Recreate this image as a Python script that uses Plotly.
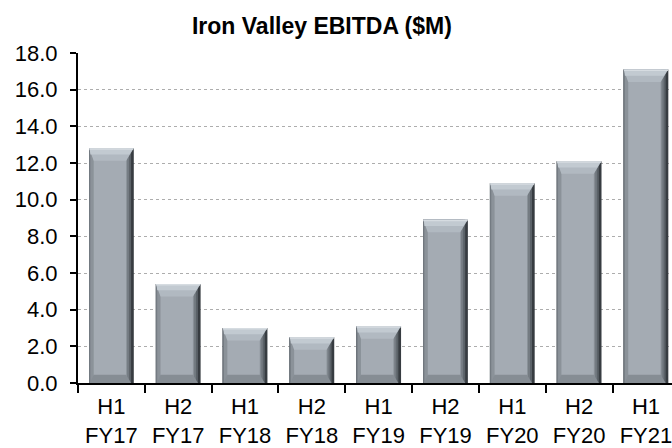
import plotly.graph_objects as go

categories = ["H1<br>FY17", "H2<br>FY17", "H1<br>FY18", "H2<br>FY18", "H1<br>FY19",
              "H2<br>FY19", "H1<br>FY20", "H2<br>FY20", "H1<br>FY21"]
ebitda = [12.8, 5.4, 3.0, 2.5, 3.1, 8.9, 10.9, 12.1, 17.1]
y_ticks = [0, 2, 4, 6, 8, 10, 12, 14, 16, 18]

FONT = "Liberation Sans, Arial, sans-serif"
xs = list(range(len(categories)))
n = len(ebitda)

fig = go.Figure()

def bar_layer(x0, x1, color, base=None, height=None):
    fig.add_trace(go.Bar(
        x=xs, y=ebitda if height is None else height, base=base,
        offset=x0, width=x1 - x0,
        marker=dict(color=color, line=dict(width=0)),
        hoverinfo="skip", showlegend=False))

def trapezoids(pts_fn, color):
    px, py = [], []
    for i, v in zip(xs, ebitda):
        for (dx, yy) in pts_fn(v):
            px.append(i + dx)
            py.append(yy)
        px.append(None)
        py.append(None)
    fig.add_trace(go.Scatter(x=px, y=py, mode="lines", fill="toself",
                             fillcolor=color, line=dict(width=0),
                             hoverinfo="skip", showlegend=False))

L, R = -0.335, 0.335       # bar edges (category units)
FL, FR = -0.265, 0.22      # face edges
TOP_B, BOT_B = 0.68, 0.45  # bevel heights (value units)

bar_layer(L, R, "#373c41")
bar_layer(L, 0.295, "#5b6268")
bar_layer(L, 0.265, "#747b82")
bar_layer(-0.315, FR + 0.015, "#8b9299")
bar_layer(FL, FR, "#a4abb3")

# bottom bevel (darker)
trapezoids(lambda v: [(L + 0.015, 0), (R - 0.04, 0), (FR, min(BOT_B, v / 2)), (FL, min(BOT_B, v / 2))],
           "#868d94")
# top bevel (lighter)
trapezoids(lambda v: [(L, v), (R, v), (FR, v - TOP_B), (FL, v - TOP_B)], "#b1b9c1")
trapezoids(lambda v: [(L + 0.01, v), (R - 0.01, v), (FR + 0.05, v - 0.34), (FL - 0.05, v - 0.34)],
           "#c2cad1")
trapezoids(lambda v: [(L, v), (R, v), (R - 0.01, v - 0.08), (L + 0.01, v - 0.08)], "#d6dce1")

fig.update_layout(
    barmode="overlay",
    width=672, height=448,
    margin=dict(l=78, r=0, t=53, b=65, autoexpand=False),
    paper_bgcolor="white", plot_bgcolor="white",
    font=dict(family=FONT, size=22, color="black"),
    title=dict(text="<b>Iron Valley EBITDA ($M)</b>", x=0.479, xanchor="center",
               y=0.943, yanchor="middle", font=dict(family=FONT, size=23, color="black")),
)
fig.update_xaxes(
    range=[-0.5, 8.39], tickvals=xs, ticktext=categories,
    showline=True, linecolor="black", linewidth=2,
    ticks="", showgrid=False, zeroline=False, tickfont=dict(size=22),
    ticklabeloverflow="allow", ticklabelstandoff=3,
    minor=dict(tickvals=[i - 0.5 for i in range(n + 1)], ticks="outside",
               ticklen=8, tickwidth=2, tickcolor="black", showgrid=False),
)
fig.update_yaxes(
    range=[0, 18], tickvals=y_ticks, tickformat=".1f",
    showline=True, linecolor="black", linewidth=2,
    ticks="outside", ticklen=6, tickwidth=2, tickcolor="black",
    showgrid=True, gridcolor="#adadad", griddash="dot", gridwidth=1,
    zeroline=False, tickfont=dict(size=22), ticklabelstandoff=8,
)

fig.write_html("out.html", config={"displayModeBar": False},
               post_script="document.body.style.margin='0';")
